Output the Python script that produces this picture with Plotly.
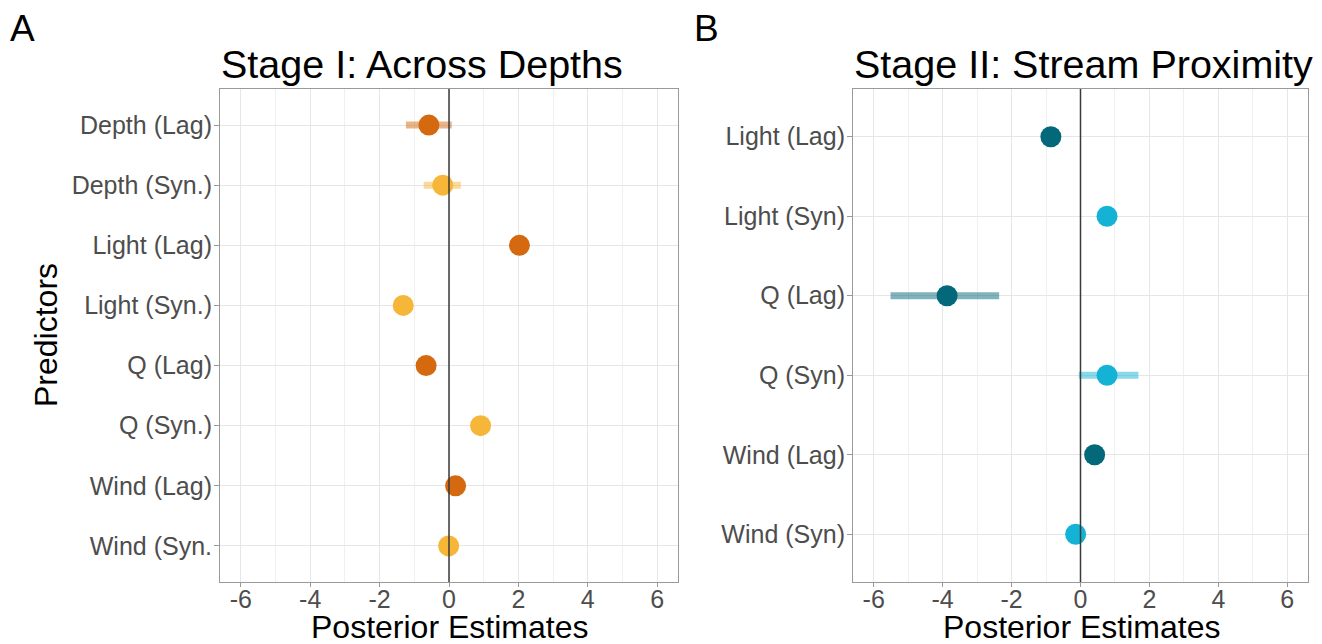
import plotly.graph_objects as go

# ---------------- data ----------------
a_predictors = ["Depth (Lag)", "Depth (Syn.)", "Light (Lag)", "Light (Syn.)",
                "Q (Lag)", "Q (Syn.)", "Wind (Lag)", "Wind (Syn."]
a_type = ["Lag", "Syn", "Lag", "Syn", "Lag", "Syn", "Lag", "Syn"]
a_est = [-0.58, -0.18, 2.03, -1.32, -0.66, 0.91, 0.19, -0.01]
a_lo = [-1.24, -0.73, 1.93, -1.42, -0.76, 0.81, 0.09, -0.11]
a_hi = [0.08, 0.34, 2.13, -1.22, -0.56, 1.01, 0.29, 0.09]

b_predictors = ["Light (Lag)", "Light (Syn)", "Q (Lag)", "Q (Syn)",
                "Wind (Lag)", "Wind (Syn)"]
b_type = ["Lag", "Syn", "Lag", "Syn", "Lag", "Syn"]
b_est = [-0.86, 0.77, -3.87, 0.77, 0.41, -0.14]
b_lo = [-0.96, 0.67, -5.51, -0.05, 0.31, -0.24]
b_hi = [-0.76, 0.87, -2.36, 1.68, 0.51, -0.04]

x_ticks = [-6, -4, -2, 0, 2, 4, 6]
x_tick_labels = ["-6", "-4", "-2", "0", "2", "4", "6"]
x_minor = [-5, -3, -1, 1, 3, 5]
zero_line = 0

a_colors = {"Lag": "#D4690F", "Syn": "#F6B637"}
a_ci_colors = {"Lag": "rgba(212,105,15,0.5)", "Syn": "rgba(246,182,55,0.5)"}
b_colors = {"Lag": "#03687A", "Syn": "#14B3D6"}
b_ci_colors = {"Lag": "rgba(3,104,122,0.5)", "Syn": "rgba(20,179,214,0.5)"}

FONT = "Liberation Sans, Arial, Helvetica, sans-serif"
W, H = 1322, 644

fig = go.Figure()


def add_panel(preds, types, est, lo, hi, colors, ci_colors, xa, ya):
    for t in ["Lag", "Syn"]:
        idx = [i for i, tt in enumerate(types) if tt == t]
        fig.add_trace(go.Scatter(
            x=[est[i] for i in idx],
            y=[preds[i] for i in idx],
            mode="markers",
            marker=dict(size=21, color=colors[t], line=dict(width=0)),
            error_x=dict(type="data", symmetric=False,
                         array=[hi[i] - est[i] for i in idx],
                         arrayminus=[est[i] - lo[i] for i in idx],
                         thickness=7, width=0, color=ci_colors[t]),
            xaxis=xa, yaxis=ya, showlegend=False, hoverinfo="x+y",
        ))


add_panel(a_predictors, a_type, a_est, a_lo, a_hi, a_colors, a_ci_colors, "x", "y")
add_panel(b_predictors, b_type, b_est, b_lo, b_hi, b_colors, b_ci_colors, "x2", "y2")


def px_x(p):
    return p / W


def px_y(p):
    return 1 - p / H


xa_common = dict(
    range=[-6.6, 6.6], tickvals=x_ticks, ticktext=x_tick_labels,
    showgrid=True, gridcolor="#E6E6E6", gridwidth=1,
    minor=dict(tickvals=x_minor, showgrid=True, gridcolor="#F0F0F0", gridwidth=1, ticks=""),
    zeroline=False, showline=True, linecolor="#9A9A9A", linewidth=1, mirror=True,
    ticks="outside", ticklen=4, tickcolor="#9A9A9A", ticklabelstandoff=-9,
    tickfont=dict(family=FONT, size=25, color="#4D4D4D"),
)
ya_common = dict(
    showgrid=True, gridcolor="#E6E6E6", gridwidth=1,
    zeroline=False, showline=True, linecolor="#9A9A9A", linewidth=1, mirror=True,
    ticks="outside", ticklen=5, tickcolor="#9A9A9A", ticklabelstandoff=-3,
    tickfont=dict(family=FONT, size=25, color="#4D4D4D"), type="category",
)

fig.update_layout(
    width=W, height=H, margin=dict(l=0, r=0, t=0, b=0),
    paper_bgcolor="white", plot_bgcolor="white",
    font=dict(family=FONT),
    xaxis=dict(**xa_common, anchor="y", domain=[px_x(220), px_x(678)]),
    yaxis=dict(**ya_common, anchor="x", domain=[px_y(582), px_y(89)],
               categoryorder="array", categoryarray=a_predictors,
               range=[len(a_predictors) - 0.4, -0.6]),
    xaxis2=dict(**xa_common, anchor="y2", domain=[px_x(853), px_x(1308)]),
    yaxis2=dict(**ya_common, anchor="x2", domain=[px_y(582), px_y(89)],
                categoryorder="array", categoryarray=b_predictors,
                range=[len(b_predictors) - 0.4, -0.6]),
)

for xr, yr in [("x", "y domain"), ("x2", "y2 domain")]:
    fig.add_shape(type="line", xref=xr, yref=yr, x0=zero_line, x1=zero_line,
                  y0=0, y1=1, line=dict(color="#3A3A3A", width=1.5), layer="above")

ann = []


def add_text(text, x, y, size, xanchor="left", color="black", angle=0):
    ann.append(dict(text=text, x=px_x(x), y=px_y(y), xref="paper", yref="paper",
                    xanchor=xanchor, yanchor="middle", showarrow=False,
                    textangle=angle,
                    font=dict(family=FONT, size=size, color=color)))


add_text("A", 8, 29, 37)
add_text("B", 692, 29, 37)
add_text("Stage I: Across Depths", 219, 64, 39.5)
add_text("Stage II: Stream Proximity", 852, 64, 39.5)
add_text("Posterior Estimates", 449, 627, 32, xanchor="center")
add_text("Posterior Estimates", 1081, 627, 32, xanchor="center")
add_text("Predictors", 46, 335, 32, xanchor="center", angle=-90)

fig.update_layout(annotations=ann)

fig.write_html("out.html")
